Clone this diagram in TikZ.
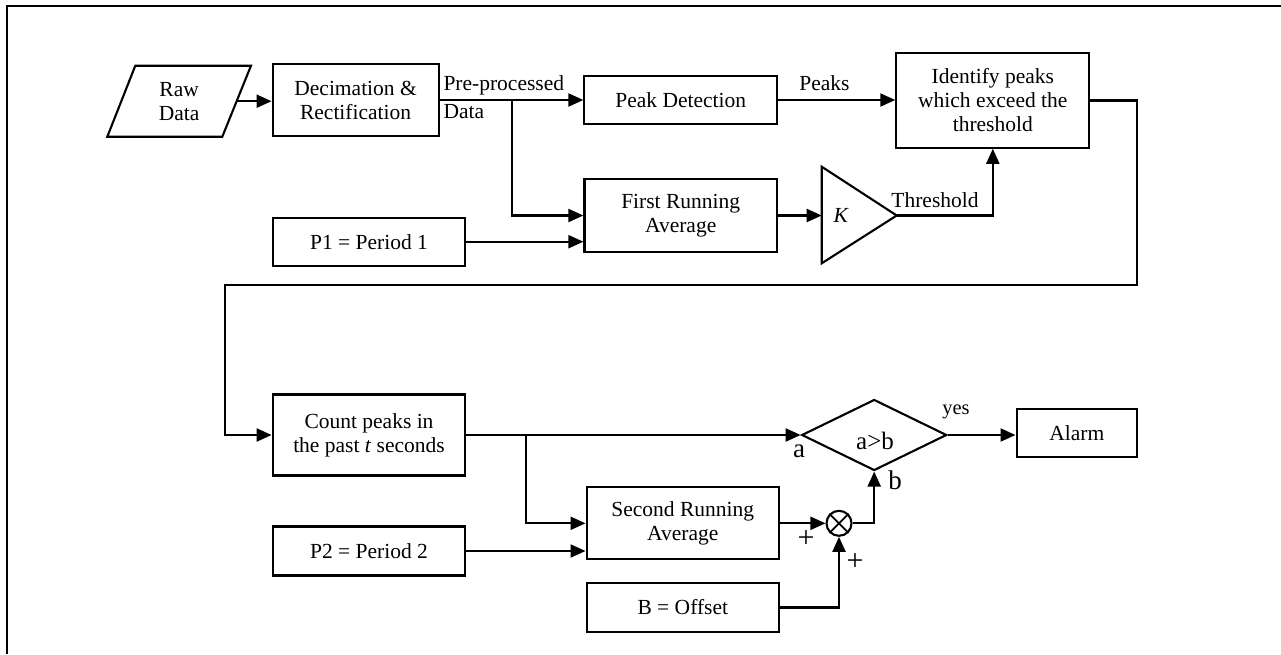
\documentclass[tikz,border=0pt]{standalone}
\usepackage{fontspec}
\setmainfont{Liberation Serif}
\usetikzlibrary{shapes.geometric, arrows.meta}
\tikzset{
  blk/.style={draw, line width=2.1pt, inner sep=0pt, align=center, font=\fontsize{21.5}{24}\selectfont},
  con/.style={line width=2.1pt, -{Triangle[length=15pt,width=13pt]}},
  ln/.style={line width=2.1pt},
  lbl/.style={inner sep=0pt, font=\fontsize{21.5}{24}\selectfont},
}
\begin{document}
\begin{tikzpicture}[x=1pt,y=-1pt]
\useasboundingbox (0,0) rectangle (1281,654);
% frame
\draw[ln] (7.3,654) -- (7.3,6) -- (1281,6);

% raw data parallelogram
\draw[ln, line join=miter] (107.3,136.7) -- (135.3,65.7) -- (251,65.7) -- (222.3,136.7) -- cycle;
\node[lbl, align=center] (raw) at (179.2,101.2) {Raw\\Data};
\coordinate (rawE) at (236.7,101.2);

% top row
\node[blk, minimum width=166pt, minimum height=72pt] (dec) at (355.6,100) {Decimation \&\\Rectification};
\node[blk, minimum width=192.6pt, minimum height=48pt] (peak) at (680.7,100) {Peak Detection};
\node[blk, minimum width=193pt, minimum height=94.4pt] (ident) at (992.8,100.5) {Identify peaks\\which exceed the\\threshold};
\node[blk, minimum width=192.5pt, minimum height=72.4pt] (fra) at (680.7,215.5) {First Running\\Average};
\node[blk, minimum width=192.7pt, minimum height=48pt] (p1) at (369,241.7) {P1 = Period 1};

% gain triangle
\coordinate (triL) at (821.7,215.5);
\coordinate (triA) at (896.7,215.5);
\draw[ln, line join=miter] (821.7,166.7) -- (triA) -- (821.7,263.3) -- cycle;
\node[lbl, font=\fontsize{21.5}{24}\selectfont\itshape] (k) at (840.7,215.7) {K};

% labels top
\node[lbl, anchor=west] (pre) at (443.3,85) {Pre-processed};
\node[lbl, anchor=west] (dat) at (443.3,111.7) {Data};
\node[lbl] (pk) at (824.5,83.3) {Peaks};
\node[lbl] (thr) at (935,200) {Threshold};

% connectors top
\draw[con] (rawE) -- (dec.west |- rawE);
\draw[con] (dec.east) -- (peak.west);
\coordinate (br1) at (511.7,100);
\draw[con] (br1) |- (fra.west);
\draw[con] (p1.east) -- (p1.east -| fra.west);
\draw[con] (peak.east) -- (peak.east -| ident.west);
\draw[con] (fra.east) -- (triL);
\draw[con] (triA) -| (ident.south);

% loop
\coordinate (loopR) at (1137,285);
\coordinate (loopL) at (225,285);

% bottom row
\node[blk, minimum width=192.7pt, minimum height=81pt] (count) at (369,435) {Count peaks in\\the past \textit{t} seconds};
\node[blk, minimum width=192.5pt, minimum height=72pt] (sra) at (682.8,523.3) {Second Running\\Average};
\node[blk, minimum width=192.7pt, minimum height=49pt] (p2) at (369,551) {P2 = Period 2};
\node[blk, minimum width=192.5pt, minimum height=48.4pt] (boff) at (682.8,607.5) {B = Offset};
\node[draw, ln, circle, minimum size=25pt, inner sep=0pt] (sum) at (839,523.3) {};
\draw[line width=1.7pt] (sum.north west) -- (sum.south east) (sum.north east) -- (sum.south west);
\node[draw, ln, diamond, minimum width=145pt, minimum height=71pt, inner sep=0pt] (cmp) at (874.2,435) {};
\node[lbl, font=\fontsize{25}{26}\selectfont] (cmpt) at (875,440.7) {a>b};
\node[blk, minimum width=120.5pt, minimum height=47.7pt] (alarm) at (1076.8,432.8) {Alarm};

\draw[con] (ident.east) -| (loopR) -- (loopL) |- (count.west);
\draw[con] (count.east) -- (cmp.west);
\coordinate (br2) at (525.7,435);
\draw[con] (br2) |- (sra.west);
\draw[con] (p2.east) -- (p2.east -| sra.west);
\draw[con] (sra.east) -- (sum.west);
\draw[con] (boff.east) -| (sum.south);
\draw[con] (sum.east) -| (cmp.south);
\draw[con] (cmp.east) -- (cmp.east -| alarm.west);

% labels bottom
\node[lbl, font=\fontsize{27}{28}\selectfont] (la) at (799,451.7) {a};
\node[lbl, font=\fontsize{27}{28}\selectfont] (lb) at (895,480) {b};
\node[lbl, font=\fontsize{20.5}{22}\selectfont] (lyes) at (956,411.7) {yes};
\node[lbl, font=\fontsize{30}{30}\selectfont] (pl1) at (806,539) {+};
\node[lbl, font=\fontsize{30}{30}\selectfont] (pl2) at (855,562) {+};
\end{tikzpicture}
\end{document}
